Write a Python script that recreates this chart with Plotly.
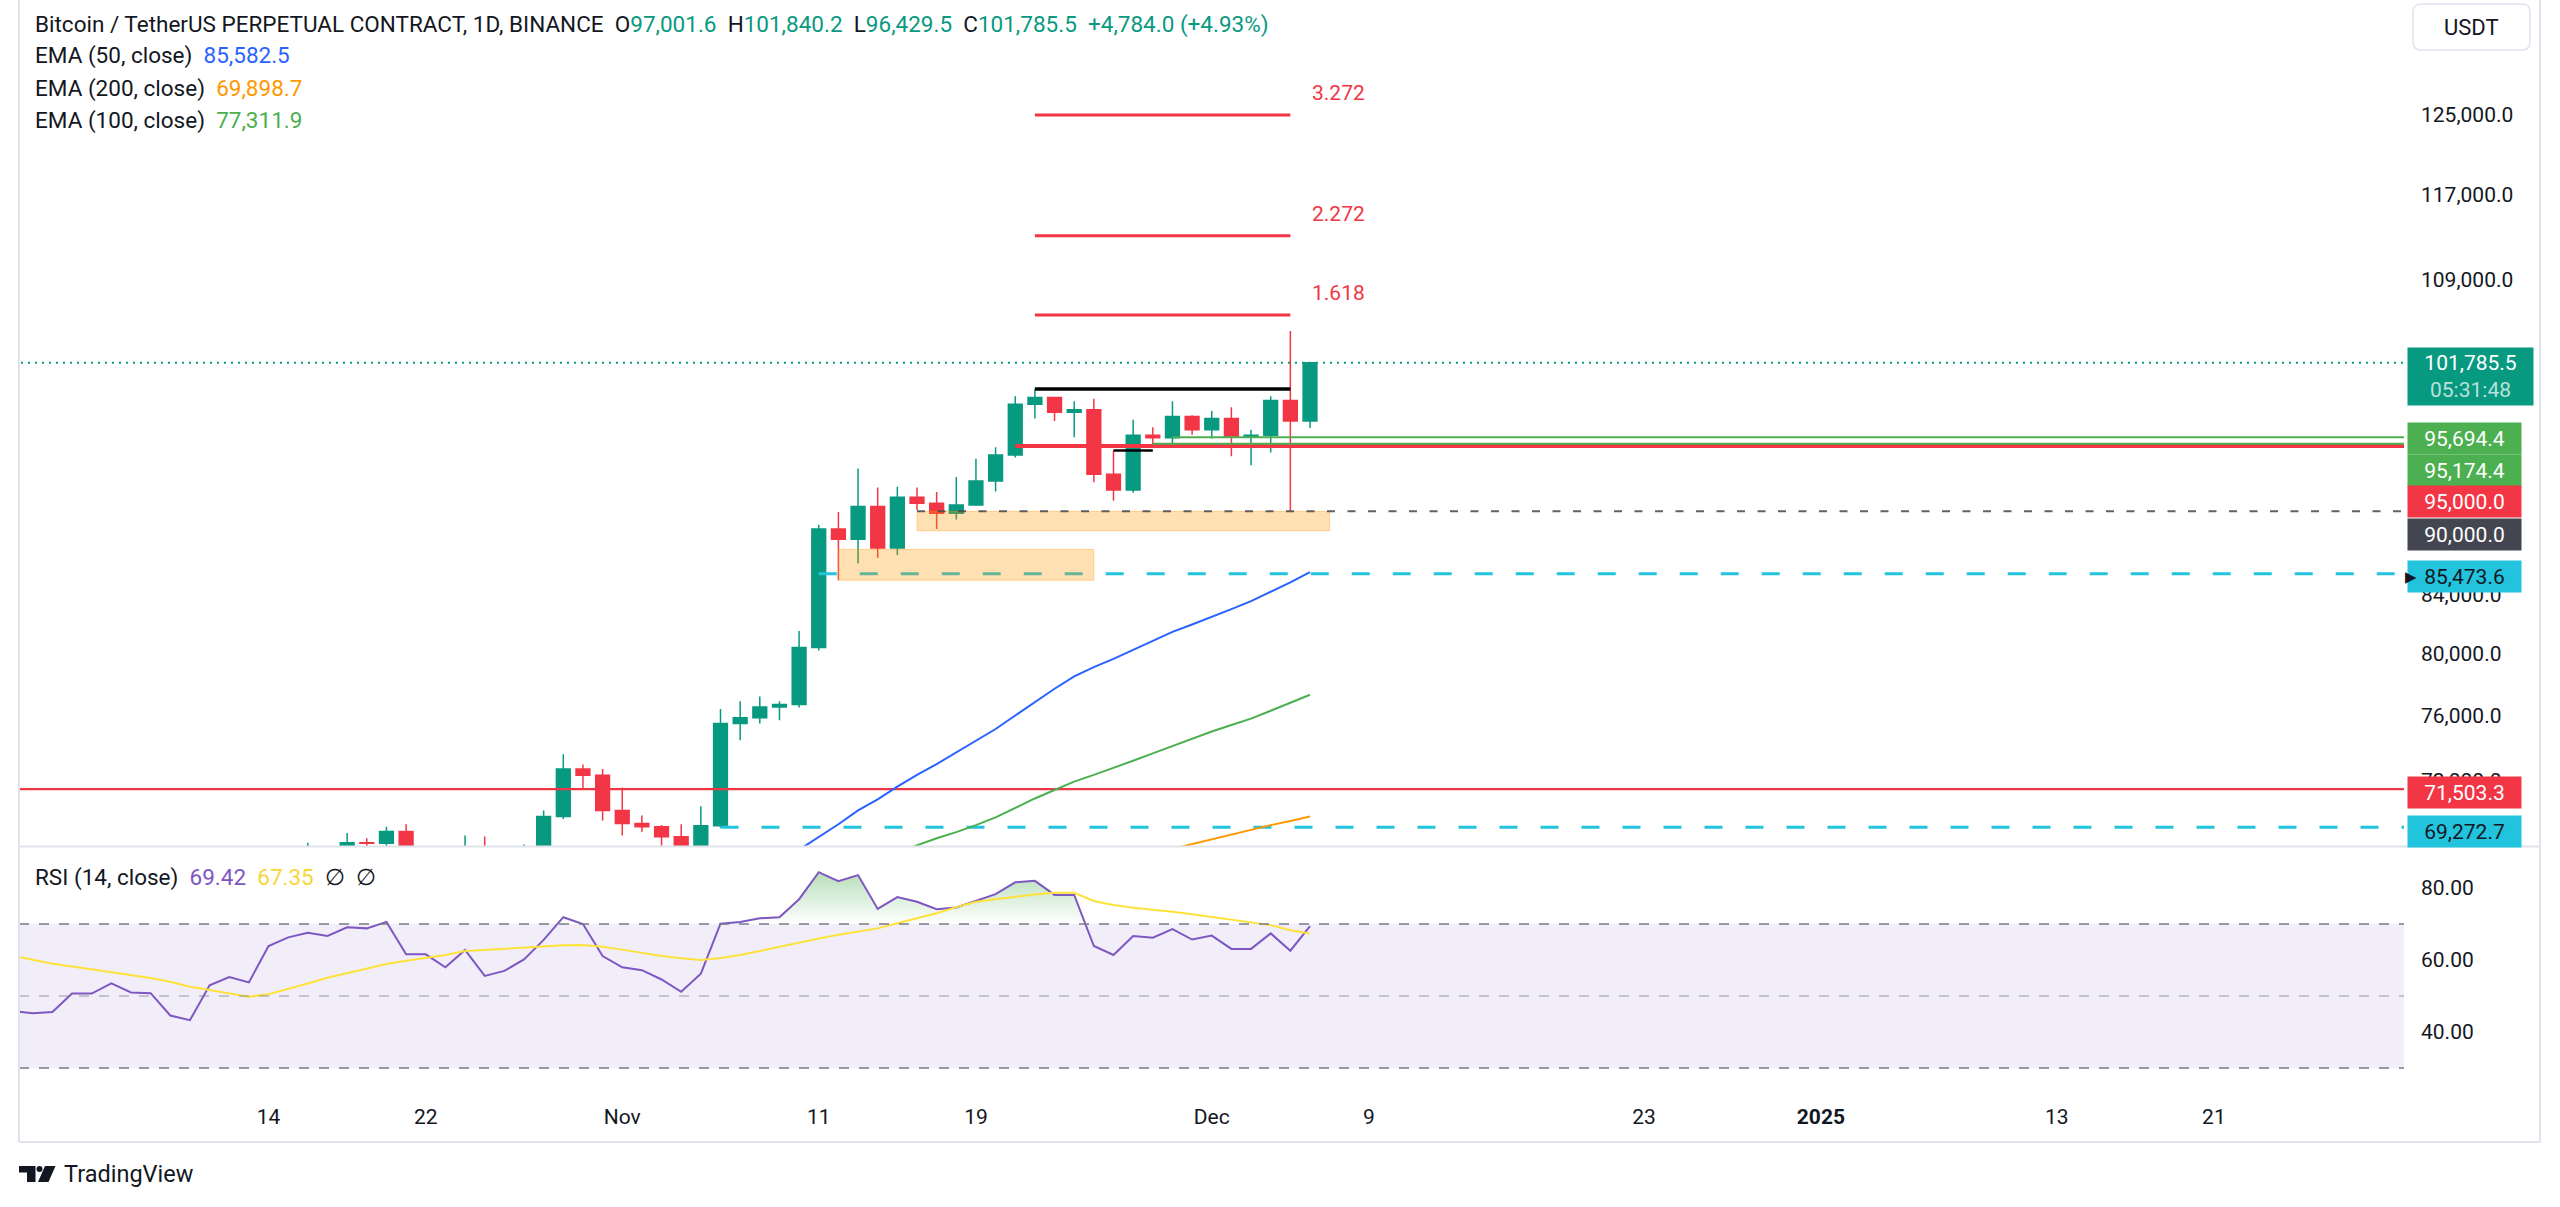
import math
import pandas as pd
import plotly.graph_objects as go

W, H = 2560, 1207

# ---------------- data ----------------
candle_dates = pd.date_range("2024-10-14", "2024-12-06", freq="D")
opens = [62850, 66080, 67040, 67610, 67400, 68400, 68360, 69030, 67380, 67370,
         66660, 68160, 66640, 67010, 67930, 69900, 72700, 72330,
         70250, 69500, 69300, 68740, 67800, 69360, 75500, 75850, 76540, 76700,
         80400, 88700, 87950, 90370, 87300, 91050, 90600, 89850, 90470, 92300,
         94300, 98350, 98900, 97700, 97900, 92800, 91600, 95850, 95650, 97350,
         96300, 97200, 95700, 95850, 98650, 97001.6]
highs = [66500, 67950, 68400, 67950, 68950, 68650, 69300, 69450, 67800, 67450,
         68800, 68750, 67400, 68300, 70250, 73600, 72970, 72700,
         71600, 69950, 69400, 69450, 70500, 76400, 76900, 77200, 76900, 81500,
         89000, 89950, 93250, 91800, 91850, 91800, 91450, 92600, 94000, 94900,
         99000, 99600, 98950, 98600, 98800, 94650, 97100, 96500, 98600, 97450,
         97800, 98100, 96300, 99000, 104500, 101840.2]
lows = [62450, 64800, 66750, 66700, 67150, 68100, 68000, 66850, 66600, 65300,
        66500, 65500, 66500, 66800, 67500, 69750, 71450, 69650,
        68800, 69000, 67450, 66800, 67450, 69250, 74450, 75500, 75700, 76500,
        80200, 85000, 86200, 86600, 86800, 90100, 88700, 89400, 90400, 91500,
        94100, 97200, 97000, 95700, 92200, 90800, 91400, 95000, 95200, 95900,
        95600, 94200, 93500, 94500, 90050, 96429.5]
closes = [66080, 67040, 67610, 67400, 68400, 68360, 69030, 67380, 67370, 66660,
          68160, 66640, 67010, 67930, 69900, 72700, 72330, 70250,
          69500, 69300, 68740, 67800, 69360, 75500, 75850, 76540, 76700, 80400,
          88700, 87950, 90370, 87300, 91050, 90600, 89850, 90470, 92300, 94300,
          98350, 98900, 97700, 97900, 92800, 91600, 95850, 95650, 97350, 96300,
          97200, 95700, 95850, 98650, 97001.5, 101785.5]

ema50_dates = pd.date_range("2024-11-10", "2024-12-06", freq="D")
ema50 = [68000, 68700, 69450, 70250, 70900, 71650, 72350, 73000, 73700, 74400,
         75150, 76000, 76850, 77700, 78500, 79100, 79650, 80250, 80850, 81450,
         81950, 82500, 83000, 83550, 84200, 84850, 85582.5]
ema100_dates = pd.date_range("2024-11-15", "2024-12-06", freq="D")
ema100 = [67850, 68250, 68650, 69000, 69400, 69850, 70400, 70950, 71450, 71950,
          72350, 72750, 73200, 73650, 74100, 74550, 75000, 75400, 75800, 76300,
          76800, 77311.9]
ema200_dates = pd.date_range("2024-11-29", "2024-12-06", freq="D")
ema200 = [68050, 68320, 68600, 68870, 69130, 69400, 69640, 69898.7]

rsi_dates = pd.date_range("2024-10-01", "2024-12-06", freq="D")
rsi = [45.8, 45.2, 45.6, 50.7, 50.7, 53.5, 51.0, 50.8, 44.6, 43.3, 53.0, 55.3, 53.8,
       63.9, 66.3, 67.6, 66.7, 69.1, 68.8, 70.6, 61.6, 61.6, 58.0, 62.8, 55.6, 57.0,
       60.2, 65.6, 71.9, 70.0, 61.1,
       58.0, 57.2, 54.6, 51.2, 56.2, 70.1, 70.6, 71.6, 71.9, 76.9, 84.4, 81.9, 83.6,
       74.2, 77.5, 76.2, 74.1, 74.6, 76.5, 78.3, 81.6, 82.0, 78.1, 78.1, 63.9, 61.4,
       66.7, 66.2, 68.6, 65.7,
       66.8, 63.1, 63.1, 67.4, 62.6, 69.42]
rsi_ma = [61.2, 60.0, 59.0, 58.2, 57.4, 56.7, 56.0, 55.0, 54.0, 52.6, 51.7, 50.7, 49.8,
          50.5, 51.9, 53.5, 55.1, 56.4, 57.7, 58.9, 59.8, 60.5, 61.4, 62.5, 62.8, 63.1,
          63.5, 63.9, 64.1, 64.2, 63.7,
          62.9, 62.0, 61.1, 60.5, 60.0, 60.6, 61.4, 62.5, 63.7, 64.9, 66.0, 67.0, 67.9,
          68.8, 70.2, 71.6, 73.0, 74.7, 76.2, 76.9, 77.6, 78.2, 78.7, 78.7, 76.4, 75.3,
          74.5, 74.0, 73.4, 72.7,
          72.0, 71.3, 70.5, 69.7, 68.3, 67.35]

# horizontal levels drawn on the price pane
level_values = [101785.5, 95694.4, 95174.4, 95000.0, 90000.0, 85473.6, 71503.3, 69272.7]
level_starts = ["2024-09-20", "2024-11-29", "2024-11-28", "2024-11-21",
                "2024-11-16", "2024-11-11", "2024-09-20", "2024-11-06"]
fib_levels = [105890, 113080, 124970]
fib_labels = ["1.618", "2.272", "3.272"]
fib_span = ["2024-11-22", "2024-12-05"]
resistance_level = 99600
small_level = 94650
small_span = ["2024-11-26", "2024-11-28"]
zone_lows = [88560, 85010]
zone_highs = [90000, 87210]
zone_starts = ["2024-11-16", "2024-11-12"]
zone_ends = ["2024-12-07", "2024-11-25"]

price_ticks = [72000, 76000, 80000, 84000, 109000, 117000, 125000]
rsi_ticks = [40, 60, 80]
date_ticks = ["2024-10-14", "2024-10-22", "2024-11-01", "2024-11-11", "2024-11-19",
              "2024-12-01", "2024-12-09", "2024-12-23", "2025-01-01", "2025-01-13",
              "2025-01-21"]
date_labels = ["14", "22", "Nov", "11", "19", "Dec", "9", "23", "<b>2025</b>", "13", "21"]

# ---------------- styling ----------------
FONT = "Roboto, 'Liberation Sans', Arial, sans-serif"
TXT = "#131722"
UP = "#089981"
DN = "#F23645"
BLUE = "#2962FF"
ORANGE = "#FF9800"
GREEN = "#4CAF50"
CYAN = "#22C3DC"
BORDER = "#E0E3EB"
LEG = 22.5


def px(x):
    return x / W


def py(y):
    return 1 - y / H


LEFT, RIGHT = 19, 2404
last_day = candle_dates[-1]
day_px = 19.65
last_px = 1310
x_left = last_day - pd.Timedelta(days=(last_px - LEFT) / day_px)
x_right = last_day + pd.Timedelta(days=(RIGHT - last_px) / day_px)
FAR_RIGHT = "2025-03-15"

fig = go.Figure()


def seg(x0, x1, level, color, width, dash="solid"):
    fig.add_trace(go.Scatter(x=[x0, x1], y=[level, level], mode="lines",
                             line=dict(color=color, width=width, dash=dash),
                             hoverinfo="skip", showlegend=False,
                             xaxis="x", yaxis="y"))


# cyan dashed levels (below the zones)
seg(level_starts[5], FAR_RIGHT, level_values[5], CYAN, 3, "18px,23px")
seg(level_starts[7], FAR_RIGHT, level_values[7], CYAN, 3, "18px,23px")

# zones
for lo, hi, s, e in zip(zone_lows, zone_highs, zone_starts, zone_ends):
    fig.add_trace(go.Scatter(x=[s, e, e, s, s], y=[lo, lo, hi, hi, lo], mode="lines",
                             fill="toself", fillcolor="rgba(255,152,0,0.3)",
                             line=dict(color="rgba(255,152,0,0.35)", width=1),
                             hoverinfo="skip", showlegend=False, xaxis="x", yaxis="y"))

# other levels
seg(level_starts[0], FAR_RIGHT, level_values[0], UP, 2, "2px,5px")
seg(level_starts[6], FAR_RIGHT, level_values[6], DN, 2.2)
seg(level_starts[4], FAR_RIGHT, level_values[4], "rgba(67,70,81,0.85)", 2, "8px,12.5px")
seg(level_starts[3], FAR_RIGHT, level_values[3], DN, 4)
seg(level_starts[2], FAR_RIGHT, level_values[2], GREEN, 2)
seg(level_starts[1], FAR_RIGHT, level_values[1], GREEN, 2)
seg(fib_span[0], fib_span[1], resistance_level, "#000000", 3.5)
seg(small_span[0], small_span[1], small_level, "#000000", 2.5)
for lv in fib_levels:
    seg(fib_span[0], fib_span[1], lv, DN, 3)

# candles
fig.add_trace(go.Candlestick(
    x=candle_dates, open=opens, high=highs, low=lows, close=closes,
    increasing=dict(line=dict(color=UP, width=1.5), fillcolor=UP),
    decreasing=dict(line=dict(color=DN, width=1.5), fillcolor=DN),
    whiskerwidth=0, hoverinfo="skip", showlegend=False, xaxis="x", yaxis="y"))

# EMAs
for d, v, c in [(ema50_dates, ema50, BLUE), (ema100_dates, ema100, GREEN),
                (ema200_dates, ema200, ORANGE)]:
    fig.add_trace(go.Scatter(x=d, y=v, mode="lines", line=dict(color=c, width=2),
                             hoverinfo="skip", showlegend=False, xaxis="x", yaxis="y"))

# RSI overbought fill (clip polygon of the RSI line at 70)
fill_x, fill_y = [], []
for i in range(len(rsi)):
    if i > 0 and (rsi[i - 1] - 70) * (rsi[i] - 70) < 0:
        t = (70 - rsi[i - 1]) / (rsi[i] - rsi[i - 1])
        fill_x.append(rsi_dates[i - 1] + (rsi_dates[i] - rsi_dates[i - 1]) * t)
        fill_y.append(70)
    fill_x.append(rsi_dates[i])
    fill_y.append(max(rsi[i], 70))
fig.add_trace(go.Scatter(x=fill_x, y=[70] * len(fill_x), mode="lines",
                         line=dict(width=0, color="rgba(0,0,0,0)"),
                         hoverinfo="skip", showlegend=False, xaxis="x2", yaxis="y2"))
fig.add_trace(go.Scatter(x=fill_x, y=fill_y, mode="lines", fill="tonexty",
                         line=dict(width=0, color="rgba(0,0,0,0)"),
                         fillgradient=dict(type="vertical", start=70, stop=85,
                                           colorscale=[[0, "rgba(76,175,80,0.0)"],
                                                       [1, "rgba(76,175,80,0.42)"]]),
                         hoverinfo="skip", showlegend=False, xaxis="x2", yaxis="y2"))
fig.add_trace(go.Scatter(x=rsi_dates, y=rsi, mode="lines",
                         line=dict(color="#7E57C2", width=2),
                         hoverinfo="skip", showlegend=False, xaxis="x2", yaxis="y2"))
fig.add_trace(go.Scatter(x=rsi_dates, y=rsi_ma, mode="lines",
                         line=dict(color="#FDE23A", width=2),
                         hoverinfo="skip", showlegend=False, xaxis="x2", yaxis="y2"))

# ---------------- shapes ----------------
shapes = []
shapes.append(dict(type="rect", xref="paper", yref="y2", x0=px(LEFT), x1=px(RIGHT),
                   y0=30, y1=70, fillcolor="rgba(126,87,194,0.1)", line=dict(width=0),
                   layer="below"))
for lv, col in [(70, "#787B86"), (30, "#787B86"), (50, "rgba(120,123,134,0.5)")]:
    shapes.append(dict(type="line", xref="paper", yref="y2", x0=px(LEFT), x1=px(RIGHT),
                       y0=lv, y1=lv, line=dict(color=col, width=1.5, dash="10px,10px")))
# widget borders
shapes += [
    dict(type="line", xref="paper", yref="paper", x0=px(LEFT), x1=px(LEFT), y0=py(0), y1=py(1142),
         line=dict(color=BORDER, width=2)),
    dict(type="line", xref="paper", yref="paper", x0=px(LEFT), x1=px(2540), y0=py(1142), y1=py(1142),
         line=dict(color=BORDER, width=2)),
    dict(type="line", xref="paper", yref="paper", x0=px(2540), x1=px(2540), y0=py(0), y1=py(1142),
         line=dict(color=BORDER, width=2)),
    dict(type="line", xref="paper", yref="paper", x0=px(LEFT), x1=px(2540), y0=py(846.5), y1=py(846.5),
         line=dict(color=BORDER, width=2)),
]
# USDT rounded box
bx0, bx1, by0, by1, r = 2413, 2530, 4, 50, 8
path = (f"M {px(bx0 + r)},{py(by0)} L {px(bx1 - r)},{py(by0)} Q {px(bx1)},{py(by0)} {px(bx1)},{py(by0 + r)} "
        f"L {px(bx1)},{py(by1 - r)} Q {px(bx1)},{py(by1)} {px(bx1 - r)},{py(by1)} "
        f"L {px(bx0 + r)},{py(by1)} Q {px(bx0)},{py(by1)} {px(bx0)},{py(by1 - r)} "
        f"L {px(bx0)},{py(by0 + r)} Q {px(bx0)},{py(by0)} {px(bx0 + r)},{py(by0)} Z")
shapes.append(dict(type="path", xref="paper", yref="paper", path=path,
                   line=dict(color=BORDER, width=1.5), fillcolor="white"))


# TradingView logo
def poly(pts):
    return "M " + " L ".join(f"{px(a)},{py(b)}" for a, b in pts) + " Z"


shapes.append(dict(type="path", xref="paper", yref="paper",
                   path=poly([(19, 1166), (35.5, 1166), (35.5, 1182), (27, 1182), (27, 1172.5), (19, 1172.5)]),
                   fillcolor=TXT, line=dict(width=0)))
shapes.append(dict(type="circle", xref="paper", yref="paper", x0=px(36.5), x1=px(42.5),
                   y0=py(1172), y1=py(1166), fillcolor=TXT, line=dict(width=0)))
shapes.append(dict(type="path", xref="paper", yref="paper",
                   path=poly([(45, 1166), (55.5, 1166), (48.5, 1182), (38, 1182)]),
                   fillcolor=TXT, line=dict(width=0)))

# ---------------- annotations ----------------
ann = []


def fmt(v, d=1):
    return f"{v:,.{d}f}"


o, h, l, c = opens[-1], highs[-1], lows[-1], closes[-1]
chg = c - closes[-2]
pct = chg / closes[-2] * 100
sp = "\u00a0\u00a0"
val = lambda s: f"<span style='color:{UP}'>{s}</span>"
row1 = ("Bitcoin / TetherUS PERPETUAL CONTRACT, 1D, BINANCE" + sp +
        "O" + val(fmt(o)) + sp + "H" + val(fmt(h)) + sp + "L" + val(fmt(l)) + sp +
        "C" + val(fmt(c)) + sp + val(f"{chg:+,.1f} ({pct:+.2f}%)"))
rows = [row1,
        f"EMA (50, close){sp}<span style='color:{BLUE}'>{fmt(ema50[-1])}</span>",
        f"EMA (200, close){sp}<span style='color:{ORANGE}'>{fmt(ema200[-1])}</span>",
        f"EMA (100, close){sp}<span style='color:{GREEN}'>{fmt(ema100[-1])}</span>"]
for i, t in enumerate(rows):
    ann.append(dict(text=t, xref="paper", yref="paper", x=px(33), y=py([24.5, 55.5, 88, 121][i]),
                    xanchor="left", yanchor="middle", showarrow=False,
                    font=dict(size=LEG, color=TXT, family=FONT)))
ann.append(dict(text=(f"RSI (14, close){sp}<span style='color:#7E57C2'>{rsi[-1]:.2f}</span>{sp}"
                      f"<span style='color:#F7D63A'>{rsi_ma[-1]:.2f}</span>{sp}∅{sp}∅"),
                xref="paper", yref="paper", x=px(33), y=py(877), xanchor="left", yanchor="middle",
                showarrow=False, font=dict(size=LEG, color=TXT, family=FONT)))
# fib labels
for lv, lab in zip(fib_levels, fib_labels):
    ann.append(dict(text=lab, xref="x", yref="y", x=last_day, y=math.log10(lv), xanchor="left",
                    yanchor="middle", yshift=22, showarrow=False,
                    font=dict(size=21, color=DN, family=FONT)))
# price scale labels
labels = [
    (level_values[0], f"{fmt(level_values[0])}<br><span style='color:rgba(255,255,255,0.72)'>05:31:48</span>",
     UP, "white", -13.5, 125, 57),
    (level_values[1], fmt(level_values[1]), GREEN, "white", -1.5, 113, 31),
    (level_values[2], fmt(level_values[2]), GREEN, "white", -26.7, 113, 31),
    (level_values[3], fmt(level_values[3]), DN, "white", -55, 113, 31),
    (level_values[4], fmt(level_values[4]), "#434651", "white", -23.4, 113, 31),
    (level_values[5], fmt(level_values[5]), CYAN, TXT, -3, 113, 31),
    (level_values[6], fmt(level_values[6]), DN, "white", -3, 113, 31),
    (level_values[7], fmt(level_values[7]), CYAN, TXT, -4, 113, 31),
]
for v, t, bg, fg, ys, wd, ht in labels:
    ann.append(dict(text=t, xref="paper", yref="y", x=px(2407), y=math.log10(v), xanchor="left",
                    yanchor="middle", yshift=ys, showarrow=False, bgcolor=bg, width=wd, height=ht,
                    borderpad=0, align="center", font=dict(size=21, color=fg, family=FONT)))
ann.append(dict(text="▶", xref="paper", yref="y", x=px(2403), y=math.log10(level_values[5]),
                xanchor="left", yanchor="middle", yshift=-3, showarrow=False,
                font=dict(size=15, color=TXT, family="DejaVu Sans")))
ann.append(dict(text="USDT", xref="paper", yref="paper", x=px(2471), y=py(27), xanchor="center",
                yanchor="middle", showarrow=False, font=dict(size=22, color=TXT, family=FONT)))
ann.append(dict(text="TradingView", xref="paper", yref="paper", x=px(62), y=py(1174), xanchor="left",
                yanchor="middle", showarrow=False, font=dict(size=23.5, color=TXT, family=FONT)))

# ---------------- layout ----------------
fig.update_layout(
    width=W, height=H, margin=dict(l=0, r=0, t=0, b=0),
    paper_bgcolor="white", plot_bgcolor="white",
    font=dict(family=FONT, color=TXT, size=21),
    showlegend=False, boxgap=0.3, boxgroupgap=0.0,
    shapes=shapes, annotations=ann,
    xaxis=dict(domain=[px(LEFT), px(RIGHT)], range=[x_left, x_right], type="date",
               anchor="y", showticklabels=False, showgrid=False, zeroline=False,
               showline=False, ticks="", rangeslider=dict(visible=False)),
    yaxis=dict(domain=[py(846), 1], type="log",
               range=[math.log10(68210), math.log10(137470)], side="right", anchor="x",
               tickvals=price_ticks, tickformat=",.1f", showgrid=False, zeroline=False,
               ticks="", showline=False, ticklabelstandoff=16,
               tickfont=dict(size=21, color=TXT, family=FONT)),
    xaxis2=dict(domain=[px(LEFT), px(RIGHT)], matches="x", anchor="y2", type="date",
                tickvals=date_ticks, ticktext=date_labels, showgrid=False, zeroline=False,
                showline=False, ticks="", ticklabelstandoff=8,
                tickfont=dict(size=21, color=TXT, family=FONT)),
    yaxis2=dict(domain=[py(1094), py(847)], range=[22.8, 91.4], side="right", anchor="x2",
                tickvals=rsi_ticks, tickformat=".2f", showgrid=False, zeroline=False,
                ticks="", showline=False, ticklabelstandoff=16,
                tickfont=dict(size=21, color=TXT, family=FONT)),
)

fig.write_html("out.html", config={"displayModeBar": False},
               post_script="document.body.style.margin='0';document.body.style.overflow='hidden';")
